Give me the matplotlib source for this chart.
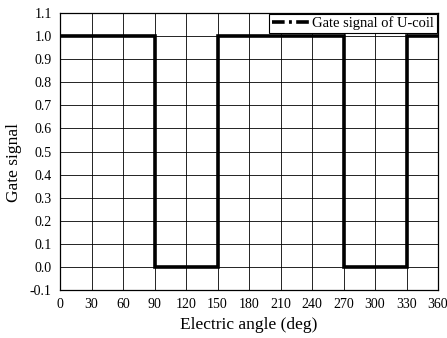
import matplotlib.pyplot as plt

# gate signal of the U-coil over one electrical period
angle = [0, 90, 90, 150, 150, 270, 270, 330, 330, 360]
gate = [1, 1, 0, 0, 1, 1, 0, 0, 1, 1]

x_ticks = list(range(0, 361, 30))
y_ticks = [round(-0.1 + 0.1 * i, 1) for i in range(13)]

plt.rcParams["font.family"] = ["Liberation Serif", "DejaVu Serif"]

fig = plt.figure(figsize=(4.47, 3.38), dpi=100)
ax = fig.add_axes([60 / 447, 1 - 290 / 338, 378 / 447, 277 / 338])

ax.plot(angle, gate, color="black", lw=2.6, label="Gate signal of U-coil",
        solid_joinstyle="miter")

ax.set_xlim(0, 360)
ax.set_ylim(-0.1, 1.1)
ax.set_xticks(x_ticks)
ax.set_yticks(y_ticks)
ax.set_yticklabels([f"{v:.1f}" for v in y_ticks])
ax.tick_params(length=0, labelsize=10, pad=6)
ax.grid(True, color="black", lw=0.6)
for s in ax.spines.values():
    s.set_linewidth(0.9)

ax.set_xlabel("Electric angle (deg)", fontsize=12.5, labelpad=4)
ax.set_ylabel("Gate signal", fontsize=12.5)
ax.yaxis.set_label_coords(-0.10, 0.46)

leg = ax.legend(loc="upper right", fontsize=10.5, frameon=True, fancybox=False,
                borderaxespad=0.1, borderpad=0.15, handlelength=2.6,
                handletextpad=0.2, framealpha=1)
leg.get_frame().set_edgecolor("black")
leg.get_frame().set_linewidth(0.8)
leg.get_lines()[0].set_dashes((3.5, 1.2, 0.8, 1.2))

fig.savefig("out.png", dpi=100)
